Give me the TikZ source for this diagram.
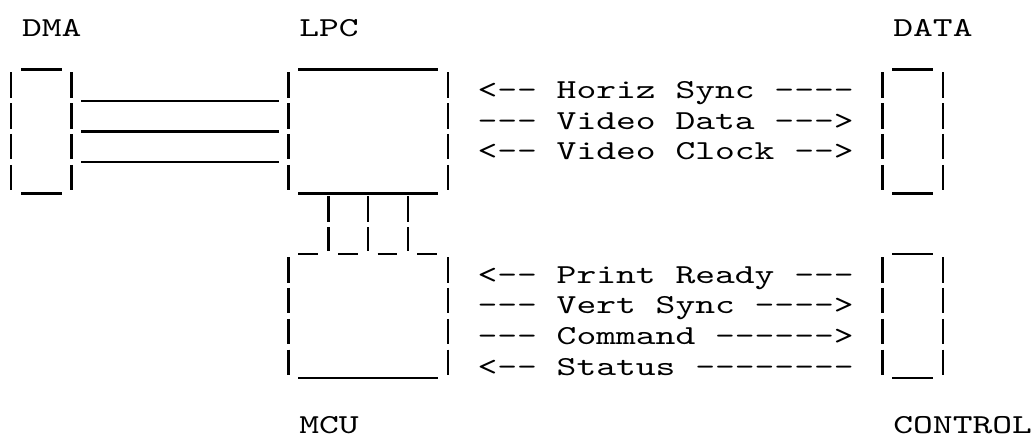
\documentclass[tikz,border=0pt]{standalone}
\usepackage{fontspec}
\usepackage{tikz}
\newfontfamily\typefont{lmmono10-regular.otf}

\begin{document}
\begin{tikzpicture}[x=9.9pt, y=-15.4pt,
  txt/.style={font=\typefont\fontsize{13.7pt}{15.4pt}\selectfont, xscale=1.376, transform shape, inner sep=0pt, anchor=base west},
  unit/.style={inner sep=0pt, minimum height=61.6pt},
  bar/.style={line width=1.1pt, dash pattern=on 12.75pt off 2.65pt},
  rule/.style={line width=1.1pt}]
  \useasboundingbox (-0.591,-1.192) rectangle (51.58,13.094);

  \node[unit, minimum width=29.7pt] (dma) at (1.5,3.08) {};
  \node[unit, minimum width=79.2pt] (lpc) at (18,3.08) {};
  \node[unit, minimum width=29.7pt] (data) at (45.5,3.08) {};
  \node[unit, minimum width=79.2pt] (mcu) at (18,9.08) {};
  \node[unit, minimum width=29.7pt] (ctrl) at (45.5,9.08) {};

  \foreach \b in {dma,lpc,data,mcu,ctrl} {
    \draw[bar] ([yshift=-1.4pt]\b.north west) -- ([yshift=1.55pt]\b.south west);
    \draw[bar] ([yshift=-1.4pt]\b.north east) -- ([yshift=1.55pt]\b.south east);
    \draw[rule] ([xshift=4.95pt]\b.south west) -- ([xshift=-4.95pt]\b.south east);
  }
  \foreach \b in {dma,lpc,data,ctrl}
    \draw[rule] ([xshift=4.95pt]\b.north west) -- ([xshift=-4.95pt]\b.north east);
  \draw[rule, dash pattern=on 9.9pt off 9.9pt] ([xshift=4.95pt]mcu.north west) -- ([xshift=-4.95pt]mcu.north east);

  \foreach \dy in {15.4pt,0pt,-15.4pt}
    \draw[rule] ([xshift=4.95pt,yshift=\dy]dma.east) -- ([xshift=-4.95pt,yshift=\dy]lpc.west);
  \foreach \dx in {-19.8pt,0pt,19.8pt}
    \draw[bar] ([xshift=\dx,yshift=-1.4pt]lpc.south) -- ([xshift=\dx,yshift=1.55pt]mcu.north);

  \node[txt] (dmalbl) at (0.5,0) {DMA};
  \node[txt] (lpclbl) at (14.5,0) {LPC};
  \node[txt] (datalbl) at (44.5,0) {DATA};
  \node[txt] (mculbl) at (14.5,12.88) {MCU};
  \node[txt] (ctrllbl) at (44.5,12.88) {CONTROL};

  \node[txt] (hsync) at (23.5,2) {<-- Horiz Sync ----};
  \node[txt] (vdata) at (23.5,3) {--- Video Data --->};
  \node[txt] (vclock) at (23.5,4) {<-- Video Clock -->};
  \node[txt] (prdy) at (23.5,8) {<-- Print Ready ---};
  \node[txt] (vsync) at (23.5,9) {--- Vert Sync ---->};
  \node[txt] (cmd) at (23.5,10) {--- Command ------>};
  \node[txt] (stat) at (23.5,11) {<-- Status --------};
\end{tikzpicture}
\end{document}
